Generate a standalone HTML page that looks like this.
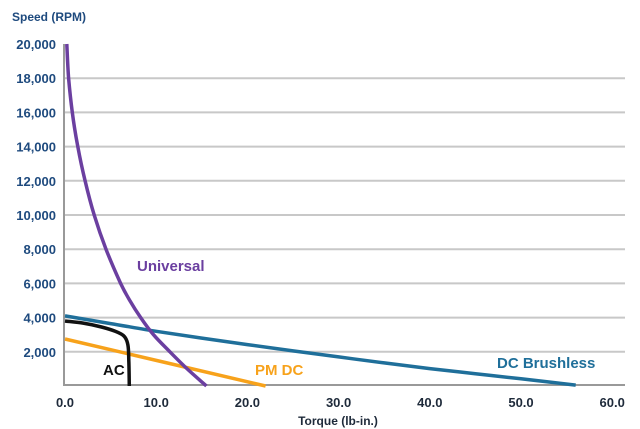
<!DOCTYPE html>
<html><head><meta charset="utf-8"><style>
body{margin:0;background:#fff;}
svg{display:block;font-family:"Liberation Sans",sans-serif;font-weight:bold;}
</style></head><body>
<svg id="chart" width="640" height="429" viewBox="0 0 640 429">
<g id="grid"></g><g id="axes"></g><g id="series"></g><g id="labels"></g>
</svg>
<script>
const xTicks=[0,10,20,30,40,50,60];
const xTickLabels=["0.0","10.0","20.0","30.0","40.0","50.0","60.0"];
const yTicks=[2000,4000,6000,8000,10000,12000,14000,16000,18000,20000];
const yTickLabels=["2,000","4,000","6,000","8,000","10,000","12,000","14,000","16,000","18,000","20,000"];
const universalX=[0.2,0.4,0.8,1.4,2.2,3.2,4.5,6.1,7.1,8.3,9.7,11.5,13.4,15.5];
const universalY=[20000,18000,16000,14000,12000,10000,8000,6000,5000,4000,3000,2000,1000,0];
const brushlessX=[0,5,10,15,20,25,30,35,40,45,50,56];
const brushlessY=[4100,3650,3200,2800,2420,2050,1700,1350,1020,720,420,50];
const pmdcX=[0,22];
const pmdcY=[2750,0];
const acX=[0,2,4,5.5,6.5,6.9,7.0,7.05];
const acY=[3800,3680,3450,3200,2900,2400,1500,0];
const NS="http://www.w3.org/2000/svg";
const xs=v=>65+v*9.12, ys=v=>386-v*0.0171;
function mk(tag,attrs,parent,txt){const e=document.createElementNS(NS,tag);for(const k in attrs)e.setAttribute(k,attrs[k]);if(txt!==undefined)e.textContent=txt;document.getElementById(parent).appendChild(e);return e;}
yTicks.forEach((t,i)=>{
  if(t<20000){const l=mk('line',{x1:65,x2:625,y1:ys(t),y2:ys(t),stroke:'#c8c8c8','stroke-width':2},'grid');
  
  }
  const tx=mk('text',{x:56,y:ys(t)+5,'text-anchor':'end','font-size':13,fill:'#1e4a7e'},'axes',yTickLabels[i]);
  
  
});
xTicks.forEach((t,i)=>{
  const tx=mk('text',{x:xs(t),y:407,'text-anchor':'middle','font-size':13,fill:'#1e2a3a'},'axes',xTickLabels[i]);
  
  
});
let a=mk('line',{x1:64,x2:64,y1:44,y2:386,stroke:'#999','stroke-width':2},'axes');


a=mk('line',{x1:64,x2:625,y1:385,y2:385,stroke:'#999','stroke-width':2},'axes');


let t=mk('text',{x:12,y:21,'font-size':12,fill:'#1e4a7e'},'axes','Speed (RPM)');


t=mk('text',{x:338,y:425,'text-anchor':'middle','font-size':12,fill:'#1e2a3a'},'axes','Torque (lb-in.)');


function curve(X,Y,color,name){
  const P=X.map((x,i)=>[xs(x),ys(Y[i])]);
  let d='M'+P[0][0].toFixed(1)+','+P[0][1].toFixed(1);
  for(let i=0;i<P.length-1;i++){
    const p0=P[i-1]||P[i],p1=P[i],p2=P[i+1],p3=P[i+2]||P[i+1];
    const c1=[p1[0]+(p2[0]-p0[0])/6,p1[1]+(p2[1]-p0[1])/6];
    const c2=[p2[0]-(p3[0]-p1[0])/6,p2[1]-(p3[1]-p1[1])/6];
    d+='C'+c1.map(v=>v.toFixed(1)).join(',')+' '+c2.map(v=>v.toFixed(1)).join(',')+' '+p2.map(v=>v.toFixed(1)).join(',');
  }
  const p=mk('path',{d:d,fill:'none',stroke:color,'stroke-width':3.5,'stroke-linejoin':'round'},'series');
  
  
}
curve(brushlessX,brushlessY,'#1f6f9a','dc-brushless-line');
curve(pmdcX,pmdcY,'#f7a21b','pm-dc-line');
curve(acX,acY,'#111','ac-line');
curve(universalX,universalY,'#6b3fa0','universal-line');
function lab(x,y,txt,color,name){const e=mk('text',{x:x,y:y,'font-size':15,fill:color},'labels',txt);
  
  }
lab(137,271,'Universal','#6b3fa0','universal-label');
lab(103,375,'AC','#111','ac-label');
lab(255,375,'PM DC','#f7a21b','pm-dc-label');
lab(497,368,'DC Brushless','#1f6f9a','dc-brushless-label');
</script>
</body></html>
